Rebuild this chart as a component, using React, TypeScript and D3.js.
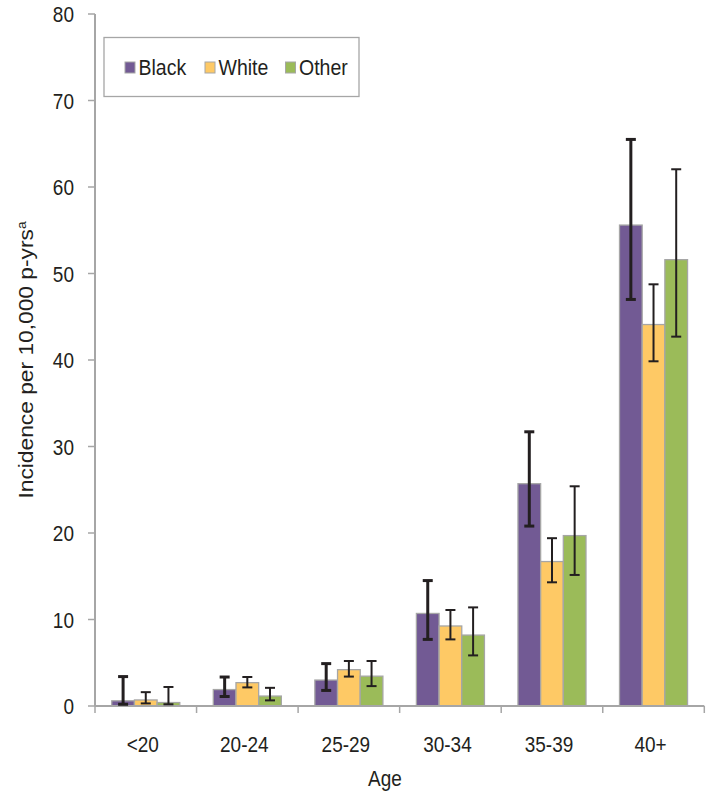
import React, { useEffect, useRef } from 'react';
import * as d3 from 'd3';

const categories = ['<20', '20-24', '25-29', '30-34', '35-39', '40+'];
const seriesNames = ['Black', 'White', 'Other'];

const blackValues = [0.6, 1.9, 3.0, 10.7, 25.7, 55.6];
const blackLow = [0.2, 1.1, 1.8, 7.7, 20.8, 47.0];
const blackHigh = [3.4, 3.35, 4.9, 14.5, 31.7, 65.5];

const whiteValues = [0.7, 2.7, 4.2, 9.25, 16.7, 44.1];
const whiteLow = [0.3, 2.15, 3.4, 7.7, 14.3, 39.85];
const whiteHigh = [1.6, 3.35, 5.2, 11.1, 19.4, 48.75];

const otherValues = [0.4, 1.15, 3.45, 8.2, 19.7, 51.6];
const otherLow = [0.2, 0.65, 2.3, 5.85, 15.15, 42.7];
const otherHigh = [2.2, 2.1, 5.2, 11.4, 25.4, 62.05];

const yTicks = [0, 10, 20, 30, 40, 50, 60, 70, 80];

const colors = ['#725a94', '#fec965', '#9bbb59'];
const errWidths = [3, 2, 2];

const W = 713;
const H = 791;
const FONT = '"Liberation Sans", Arial, sans-serif';
const TEXT = '#231f20';
const AXIS = '#a6a6a6';
const SY = 1.15;

export default function App() {
  const svgRef = useRef<SVGSVGElement>(null);

  useEffect(() => {
    if (!svgRef.current) return;
    const svg = d3.select(svgRef.current);
    svg.selectAll('*').remove();

    const left = 95;
    const right = 704.3;
    const top = 14;
    const bottom = 706;

    const x0 = d3.scaleBand<string>().domain(categories).range([left, right]);
    const bw = x0.bandwidth();
    const pad = bw * 0.165;
    const x1 = d3.scaleBand<string>().domain(seriesNames).range([pad, bw - pad]);
    const y = d3.scaleLinear().domain([0, 80]).range([bottom, top]);

    const values = [blackValues, whiteValues, otherValues];
    const lows = [blackLow, whiteLow, otherLow];
    const highs = [blackHigh, whiteHigh, otherHigh];

    const addText = (
      g: d3.Selection<any, unknown, null, undefined>,
      tx: number,
      ty: number,
      str: string,
      anchor: string,
      size = 18.5
    ) =>
      g
        .append('text')
        .attr('transform', `translate(${tx},${ty}) scale(1,${SY})`)
        .attr('text-anchor', anchor)
        .attr('font-family', FONT)
        .attr('font-size', size)
        .attr('fill', TEXT)
        .text(str);

    // y axis
    svg
      .append('line')
      .attr('x1', left)
      .attr('x2', left)
      .attr('y1', top)
      .attr('y2', bottom)
      .attr('stroke', AXIS)
      .attr('stroke-width', 2);

    yTicks.forEach((t) => {
      svg
        .append('line')
        .attr('x1', left - 7)
        .attr('x2', left)
        .attr('y1', y(t))
        .attr('y2', y(t))
        .attr('stroke', AXIS)
        .attr('stroke-width', 1.5);
      addText(svg, 74, y(t) + 8, String(t), 'end', 19);
    });

    // bars
    seriesNames.forEach((s, si) => {
      svg
        .append('g')
        .selectAll('rect')
        .data(categories)
        .join('rect')
        .attr('x', (c) => (x0(c) ?? 0) + (x1(s) ?? 0))
        .attr('width', x1.bandwidth())
        .attr('y', (_, i) => y(values[si][i]))
        .attr('height', (_, i) => bottom - y(values[si][i]))
        .attr('fill', colors[si])
        .attr('stroke', AXIS)
        .attr('stroke-width', 1.3);
    });

    // x axis
    svg
      .append('line')
      .attr('x1', left)
      .attr('x2', right)
      .attr('y1', bottom)
      .attr('y2', bottom)
      .attr('stroke', AXIS)
      .attr('stroke-width', 2);

    [...categories.map((c) => x0(c) ?? 0), right].forEach((tx) => {
      svg
        .append('line')
        .attr('x1', tx)
        .attr('x2', tx)
        .attr('y1', bottom)
        .attr('y2', bottom + 7)
        .attr('stroke', AXIS)
        .attr('stroke-width', 1.5);
    });

    categories.forEach((c) => {
      addText(svg, (x0(c) ?? 0) + bw / 2 - 3, 752, c, 'middle', 19);
    });

    // error bars
    seriesNames.forEach((s, si) => {
      const g = svg.append('g').attr('stroke', TEXT).attr('stroke-width', errWidths[si]);
      categories.forEach((c, i) => {
        const cx = (x0(c) ?? 0) + (x1(s) ?? 0) + x1.bandwidth() / 2;
        const lo = y(lows[si][i]);
        const hi = y(highs[si][i]);
        g.append('line').attr('x1', cx).attr('x2', cx).attr('y1', hi).attr('y2', lo);
        g.append('line').attr('x1', cx - 5).attr('x2', cx + 5).attr('y1', hi).attr('y2', hi);
        g.append('line').attr('x1', cx - 5).attr('x2', cx + 5).attr('y1', lo).attr('y2', lo);
      });
    });

    // axis titles
    addText(svg, 385, 786, 'Age', 'middle', 19);

    const yl = svg
      .append('text')
      .attr('transform', `translate(33,360) scale(1,${SY}) rotate(-90)`)
      .attr('text-anchor', 'middle')
      .attr('font-family', FONT)
      .attr('font-size', 19.8)
      .attr('fill', TEXT);
    yl.append('tspan').text('Incidence per 10,000 p-yrs');
    yl.append('tspan').attr('font-size', 12).attr('dy', -7).text('a');

    // legend
    svg
      .append('rect')
      .attr('x', 104)
      .attr('y', 37.5)
      .attr('width', 255)
      .attr('height', 59)
      .attr('fill', '#fff')
      .attr('stroke', AXIS)
      .attr('stroke-width', 1.3);

    const legendX = [125, 205, 285.5];
    seriesNames.forEach((s, si) => {
      svg
        .append('rect')
        .attr('x', legendX[si])
        .attr('y', 62)
        .attr('width', 10)
        .attr('height', 11)
        .attr('fill', colors[si])
        .attr('stroke', AXIS)
        .attr('stroke-width', 1);
      addText(svg, legendX[si] + 13.5, 75, s, 'start', 19.5);
    });
  }, []);

  return (
    <svg
      ref={svgRef}
      width={W}
      height={H}
      style={{ position: 'absolute', left: 0, top: 0, background: '#fff' }}
    />
  );
}
